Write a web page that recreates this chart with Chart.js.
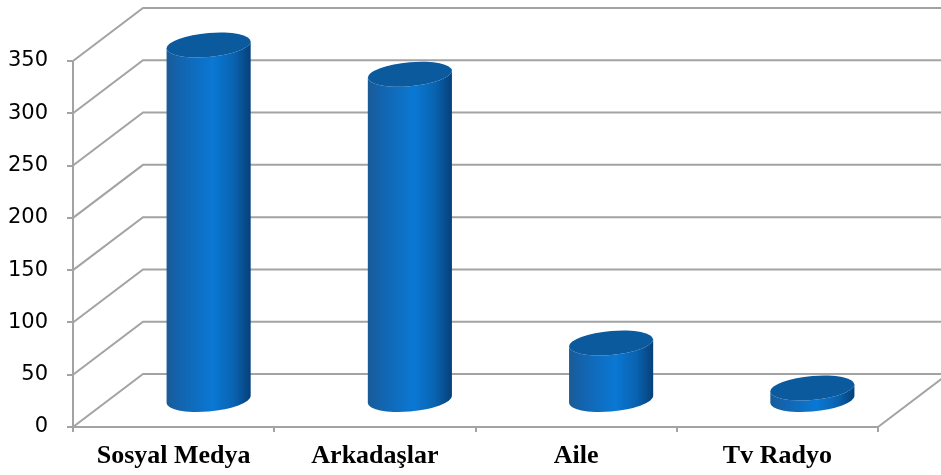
<!DOCTYPE html>
<html>
<head>
<meta charset="utf-8">
<script src="https://cdn.jsdelivr.net/npm/chart.js@4"></script>
<style>
  html, body { margin: 0; padding: 0; background: #fff; }
  #wrap { width: 941px; height: 475px; }
</style>
</head>
<body>
<div id="wrap"><canvas id="myChart"></canvas></div>
<script>
// data
let categories = ["Sosyal Medya", "Arkadaşlar", "Aile", "Tv Radyo"];
let values = [340, 312, 55, 12];
let yTicks = [0, 50, 100, 150, 200, 250, 300, 350];

// depth of the fake 3d box (px)
const DX = 70, DY = 53;
const gridColor = '#a3a3a3';

// back wall, side wall and floor lines
let box3d = {
  id: 'box3d',
  beforeDatasetsDraw(chart) {
    let ctx = chart.ctx, y = chart.scales.y, a = chart.chartArea;
    ctx.save();
    ctx.strokeStyle = gridColor;
    ctx.lineWidth = 2;
    ctx.beginPath();
    yTicks.forEach(v => {
      let py = y.getPixelForValue(v);
      ctx.moveTo(a.left, py);
      ctx.lineTo(a.left + DX, py - DY);
      ctx.lineTo(a.right + DX, py - DY);
    });
    let y0 = y.getPixelForValue(0);
    ctx.moveTo(a.right, y0);
    ctx.lineTo(a.right + DX, y0 - DY);
    ctx.stroke();
    ctx.restore();
  },
  // cylinders on top of each (invisible) bar
  afterDatasetsDraw(chart) {
    let ctx = chart.ctx;
    chart.getDatasetMeta(0).data.forEach(bar => {
      let rx = bar.width / 2, ry = 12;
      let cx = bar.x + DX / 2;
      let top = bar.y - DY / 2, bot = bar.base - DY / 2;
      ctx.save();
      ctx.translate(cx, 0);
      ctx.transform(1, -0.083, 0, 1, 0, 0);
      let g = ctx.createLinearGradient(-rx, 0, rx, 0);
      g.addColorStop(0, '#1b5a96');
      g.addColorStop(0.12, '#1462aa');
      g.addColorStop(0.55, '#0a78d4');
      g.addColorStop(0.8, '#0963b0');
      g.addColorStop(1, '#06407a');
      ctx.fillStyle = g;
      ctx.beginPath();
      ctx.moveTo(-rx, top);
      ctx.lineTo(-rx, bot);
      ctx.ellipse(0, bot, rx, ry, 0, Math.PI, 0, true);
      ctx.lineTo(rx, top);
      ctx.ellipse(0, top, rx, ry, 0, 0, Math.PI, false);
      ctx.closePath();
      ctx.fill();
      ctx.fillStyle = '#0b5a9e';
      ctx.beginPath();
      ctx.ellipse(0, top, rx, ry, 0, 0, Math.PI * 2);
      ctx.fill();
      ctx.restore();
    });
  }
};

let chart = new Chart(document.getElementById("myChart"), {
  type: 'bar',
  data: {
    labels: categories,
    datasets: [{
      data: values,
      backgroundColor: 'rgba(0,0,0,0)',
      barPercentage: 84 / 201,
      categoryPercentage: 1
    }]
  },
  options: {
    responsive: true,
    maintainAspectRatio: false,
    animation: false,
    layout: { padding: { top: 61, right: 63, left: 0, bottom: 0 } },
    plugins: { legend: { display: false }, tooltip: { enabled: false } },
    scales: {
      x: {
        afterFit(s) { s.height = 48; },
        grid: { drawOnChartArea: false, offset: true, tickLength: 5, color: gridColor, lineWidth: 2 },
        border: { color: gridColor, width: 2 },
        ticks: {
          color: '#000', padding: 9, maxRotation: 0,
          font: { family: 'Liberation Serif', size: 26, weight: 'bold' }
        }
      },
      y: {
        min: 0, max: 350,
        afterFit(s) { s.width = 73; },
        grid: { drawOnChartArea: false, tickLength: 6, color: gridColor, lineWidth: 2 },
        border: { color: gridColor, width: 2 },
        ticks: {
          stepSize: 50, color: '#000', padding: 19,
          font: { family: 'DejaVu Sans', size: 21 }
        }
      }
    }
  },
  plugins: [box3d]
});
</script>
</body>
</html>
